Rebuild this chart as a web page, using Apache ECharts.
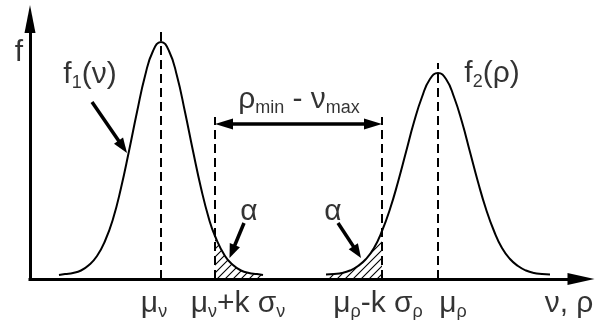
<!DOCTYPE html>
<html>
<head>
<meta charset="utf-8">
<script src="https://cdn.jsdelivr.net/npm/echarts@6/dist/echarts.min.js"></script>
<style>
  html, body { margin: 0; padding: 0; background: #fff; }
  #chart { width: 606px; height: 320px; }
</style>
</head>
<body>
<div id="chart"></div>
<script>
// Density f1(nu), sampled along the horizontal axis
const f1X = [29, 35, 43, 51, 59, 67, 75, 83, 91, 99, 107, 115, 123, 131, 139, 147, 155, 163, 171, 179, 185, 195, 203, 211, 219, 227, 233];
const f1Y = [4, 5, 6, 8.5, 14, 23, 38, 60, 91, 128, 167, 203, 228, 237, 228, 203, 167, 128, 91, 60, 43, 23, 14, 8.5, 6, 5, 4];

// Density f2(rho)
const f2X = [296, 304, 312, 320, 328, 336, 344, 352, 360, 368, 376, 384, 392, 400, 408, 416, 424, 432, 440, 448, 456, 464, 472, 480, 488, 496, 504, 512, 520];
const f2Y = [4.4, 5, 6, 8.5, 13, 20, 31, 48, 70, 97, 127, 157, 182, 200, 206, 200, 182, 157, 127, 97, 70, 48, 31, 20, 13, 8.5, 6, 5, 4.4];

// Marked positions on the axis: mu_nu, mu_nu + k sigma_nu, mu_rho - k sigma_rho, mu_rho
const tickValues = [131, 185, 352, 408];
const tickLabels = ['{m|μ}{s|ν}', '{m|μ}{s|ν}{m|+k σ}{s|ν}', '{m|μ}{s|ρ}{m|-k σ}{s|ρ}', '{m|μ}{s|ρ}'];
// top of each dashed guide
const guideTops = [250, 162, 162, 216];

// Text notes inside the plot
const noteTexts = ['{m|f}{s|1}{m|(ν)}', '{m|f}{s|2}{m|(ρ)}', '{m|ρ}{s|min}{m| - ν}{s|max}', '{m|α}', '{m|α}'];
const noteAnchors = [[60, 204], [462, 205], [269, 179], [219, 67], [303, 67]];
const axisTitleF = 'f';
const axisTitleX = 'ν, ρ';

// Pointer arrows: start -> tip
const pointerFrom = [[62, 177], [214, 56], [308, 56]];
const pointerTip = [[97, 126], [199.5, 21], [331, 21]];
// Span rho_min - nu_max between the two dashed guides
const spanEnds = [[185, 155], [352, 155]];

const FONT = 'Liberation Sans, Arial, sans-serif';
const rich = {
  m: { fontSize: 30, lineHeight: 34, fontFamily: FONT, color: '#000' },
  s: { fontSize: 18, padding: [16, 0, 0, 0], fontFamily: FONT, color: '#000' }
};
// horizontal nudge of each axis caption relative to its mark (px)
const tickShift = [-7, 23, -4, 15];

function zip(xs, ys) { return xs.map((x, i) => [x, ys[i]]); }
function retract(from, to, len) {
  const dx = to[0] - from[0], dy = to[1] - from[1];
  const L = Math.hypot(dx, dy);
  return [to[0] - dx / L * len, to[1] - dy / L * len];
}

// hatch tile for the tail areas
const tile = document.createElement('canvas');
tile.width = 8; tile.height = 8;
const tc = tile.getContext('2d');
tc.strokeStyle = '#000';
tc.lineWidth = 1.1;
tc.beginPath();
tc.moveTo(0, 8); tc.lineTo(8, 0);
tc.moveTo(-1, 1); tc.lineTo(1, -1);
tc.moveTo(7, 9); tc.lineTo(9, 7);
tc.stroke();
const hatch = { image: tile, repeat: 'repeat' };

const f1 = zip(f1X, f1Y);
const f2 = zip(f2X, f2Y);
const leftTail = f1.filter(p => p[0] >= tickValues[1]);
const rightTail = f2.filter(p => p[0] <= tickValues[2]);

const guideLines = tickValues.map((x, i) => [{ coord: [x, 0] }, { coord: [x, guideTops[i]] }]);

const headLen = [15, 14, 14];
const pointerLines = pointerFrom.map((f, i) => [
  { coord: f, symbol: 'none' },
  { coord: retract(f, pointerTip[i], headLen[i] / 2), symbol: 'triangle', symbolSize: [11, headLen[i]] }
]);
const spanLen = 18;
const spanLine = [[
  { coord: retract(spanEnds[1], spanEnds[0], spanLen / 2), symbol: 'triangle', symbolSize: [11, spanLen] },
  { coord: retract(spanEnds[0], spanEnds[1], spanLen / 2), symbol: 'triangle', symbolSize: [11, spanLen] }
]];

const textLabel = {
  show: true, position: 'inside', align: 'center', verticalAlign: 'middle', rich: rich
};

const chart = echarts.init(document.getElementById('chart'), null, { renderer: 'canvas' });
chart.setOption({
  animation: false,
  backgroundColor: '#fff',
  grid: { left: 30, right: 25, top: 19, bottom: 41, containLabel: false, outerBoundsMode: 'none' },
  xAxis: {
    type: 'value', min: 0, max: 551,
    axisLine: { show: true, onZero: false, symbol: ['none', 'triangle'], symbolSize: [12, 27],
      lineStyle: { color: '#000', width: 3, cap: 'square' } },
    axisTick: { show: false },
    splitLine: { show: false },
    axisLabel: { show: false }
  },
  yAxis: {
    type: 'value', min: 0, max: 260,
    axisLine: { show: true, onZero: false, symbol: ['none', 'triangle'], symbolSize: [11, 28],
      lineStyle: { color: '#000', width: 3, cap: 'square' } },
    axisTick: { show: false },
    splitLine: { show: false },
    axisLabel: { show: false }
  },
  series: [
    {
      name: 'tail ν', type: 'line', data: leftTail, smooth: true, showSymbol: false, silent: true,
      lineStyle: { width: 0 }, areaStyle: { color: hatch, opacity: 1 }, z: 1
    },
    {
      name: 'tail ρ', type: 'line', data: rightTail, smooth: true, showSymbol: false, silent: true,
      lineStyle: { width: 0 }, areaStyle: { color: hatch, opacity: 1 }, z: 1
    },
    {
      name: 'f1', type: 'line', data: f1, smooth: true, showSymbol: false, silent: true,
      lineStyle: { color: '#000', width: 2 }, z: 3
    },
    {
      name: 'f2', type: 'line', data: f2, smooth: true, showSymbol: false, silent: true,
      lineStyle: { color: '#000', width: 2 }, z: 3
    },
    {
      name: 'guides', type: 'line', data: [], silent: true,
      markLine: {
        silent: true, symbol: 'none', label: { show: false }, animation: false,
        lineStyle: { color: '#000', width: 2, type: [9, 5] },
        data: guideLines
      }
    },
    {
      name: 'pointers', type: 'line', data: [], silent: true,
      markLine: {
        silent: true, label: { show: false }, animation: false,
        lineStyle: { color: '#000', width: 3.5, type: 'solid' },
        data: pointerLines.concat(spanLine)
      }
    },
    {
      name: 'notes', type: 'scatter', silent: true, symbolSize: 1, clip: false,
      itemStyle: { color: 'rgba(0,0,0,0)' },
      data: noteAnchors.map(p => ({ value: p })),
      label: Object.assign({}, textLabel, { formatter: p => noteTexts[p.dataIndex] }),
      z: 5
    },
    {
      // captions under the marked positions
      name: 'captions', type: 'scatter', silent: true, symbolSize: 1, clip: false,
      itemStyle: { color: 'rgba(0,0,0,0)' },
      data: tickValues.map((x, i) => ({ value: [x, 0], label: { offset: [tickShift[i], 25] } })),
      label: Object.assign({}, textLabel, { formatter: p => tickLabels[p.dataIndex] }),
      z: 5
    },
    {
      // axis titles
      name: 'titles', type: 'scatter', silent: true, symbolSize: 1, clip: false,
      itemStyle: { color: 'rgba(0,0,0,0)' },
      data: [
        { value: [0, 227], label: { formatter: '{m|' + axisTitleF + '}', offset: [-11, 1] } },
        { value: [551, 0], label: { formatter: '{m|' + axisTitleX + '}', offset: [-12, 25] } }
      ],
      label: textLabel,
      z: 5
    }
  ]
});
</script>
</body>
</html>
